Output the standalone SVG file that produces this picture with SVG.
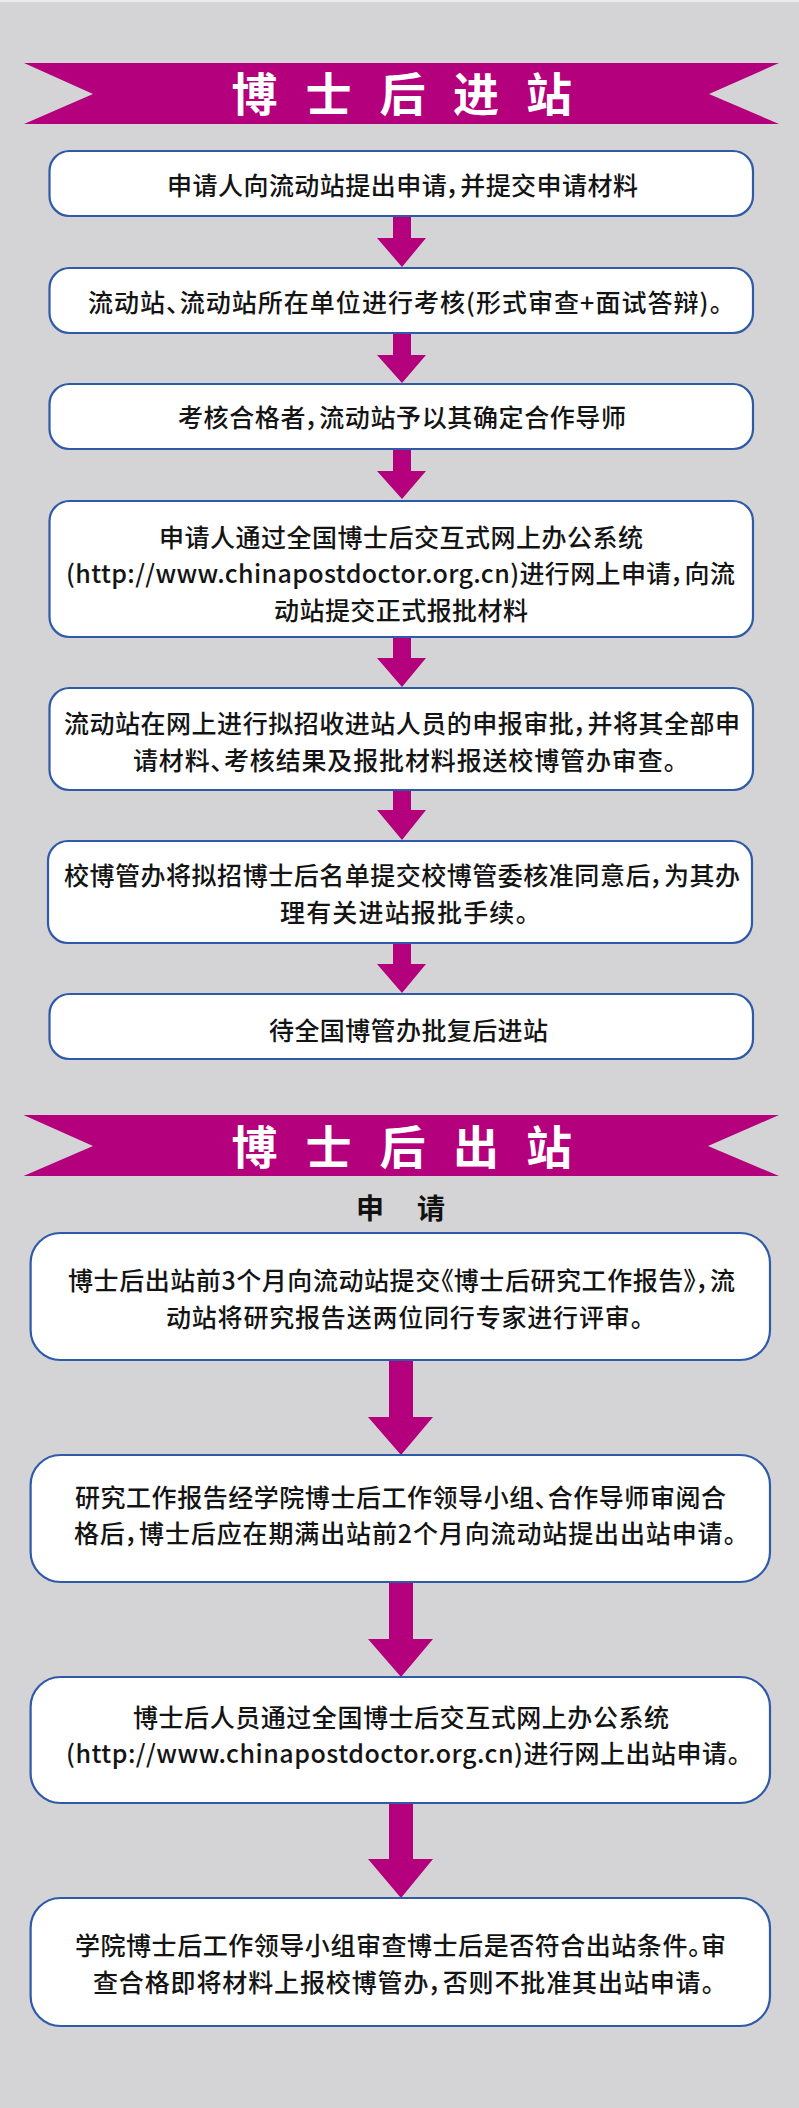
<svg xmlns="http://www.w3.org/2000/svg" width="799" height="2108" viewBox="0 0 799 2108">
<style>
.bg{fill:#d4d4d6}
.banner{fill:#b4007c}
.title{font-family:"Noto Sans CJK SC","Noto Sans",sans-serif;font-size:46px;font-weight:700;fill:#ffffff;text-anchor:middle}
.sub{font-family:"Noto Sans CJK SC","Noto Sans",sans-serif;font-size:28px;font-weight:700;fill:#111111;text-anchor:middle}
.box{fill:#ffffff;stroke:#2e5aa8;stroke-width:2.2}
.t{font-family:"Noto Sans CJK SC","Noto Sans",sans-serif;font-size:25px;font-weight:500;fill:#141414;font-feature-settings:"palt" 1}
.arrow{fill:#b4007c}
</style>
<rect class="bg" x="0" y="0" width="799" height="2108"/>
<rect x="0" y="0" width="799" height="2" fill="#ebebec"/>

<g id="banner-entry">
<polygon class="banner" points="24,63 779,63 709,94 779,124 24,124 93,94"/>
<text class="title" x="254.5 328.5 402.5 476 549" y="111">博士后进站</text>
</g>

<g id="connectors">
<polygon class="arrow" points="393,216 411,216 411,238 426,238 402,267 377,238 393,238"/>
<polygon class="arrow" points="393,333 411,333 411,355 426,355 402,383 377,355 393,355"/>
<polygon class="arrow" points="393,449 411,449 411,471 426,471 402,499 377,471 393,471"/>
<polygon class="arrow" points="393,637 411,637 411,658 426,658 402,687 377,658 393,658"/>
<polygon class="arrow" points="393,790 411,790 411,810 426,810 402,840 377,810 393,810"/>
<polygon class="arrow" points="393,943 411,943 411,964 426,964 402,993 377,964 393,964"/>
<polygon class="arrow" points="389,1360 413,1360 413,1417 433,1417 401,1455 368,1417 389,1417"/>
<polygon class="arrow" points="389,1582 413,1582 413,1639 433,1639 401,1677 368,1639 389,1639"/>
<polygon class="arrow" points="389,1803 413,1803 413,1859 433,1859 401,1898 368,1859 389,1859"/>
</g>

<g id="node1">
<rect class="box" x="49.5" y="151" width="703.5" height="65" rx="20" ry="20"/>
<text class="t" x="167" y="194.5" textLength="471" lengthAdjust="spacing">申请人向流动站提出申请，并提交申请材料</text>
</g>
<g id="node2">
<rect class="box" x="49.5" y="268" width="703.5" height="65" rx="20" ry="20"/>
<text class="t" x="88" y="311.5" textLength="634" lengthAdjust="spacing">流动站、流动站所在单位进行考核(形式审查+面试答辩)。</text>
</g>
<g id="node3">
<rect class="box" x="49.5" y="384" width="703.5" height="65" rx="20" ry="20"/>
<text class="t" x="178" y="426.5" textLength="448" lengthAdjust="spacing">考核合格者，流动站予以其确定合作导师</text>
</g>
<g id="node4">
<rect class="box" x="49.5" y="501" width="703.5" height="136" rx="20" ry="20"/>
<text class="t" x="159" y="546.5" textLength="484" lengthAdjust="spacing">申请人通过全国博士后交互式网上办公系统</text>
<text class="t" x="66" y="582.5" textLength="669" lengthAdjust="spacing">(http://www.chinapostdoctor.org.cn)进行网上申请，向流</text>
<text class="t" x="274" y="619.5" textLength="254" lengthAdjust="spacing">动站提交正式报批材料</text>
</g>
<g id="node5">
<rect class="box" x="49.5" y="688" width="703.5" height="102" rx="20" ry="20"/>
<text class="t" x="64" y="732.5" textLength="676" lengthAdjust="spacing">流动站在网上进行拟招收进站人员的申报审批，并将其全部申</text>
<text class="t" x="133" y="769.5" textLength="543" lengthAdjust="spacing">请材料、考核结果及报批材料报送校博管办审查。</text>
</g>
<g id="node6">
<rect class="box" x="48" y="841" width="704" height="102" rx="20" ry="20"/>
<text class="t" x="64" y="884.5" textLength="676" lengthAdjust="spacing">校博管办将拟招博士后名单提交校博管委核准同意后，为其办</text>
<text class="t" x="280" y="921.5" textLength="248" lengthAdjust="spacing">理有关进站报批手续。</text>
</g>
<g id="node7">
<rect class="box" x="49.5" y="994" width="703.5" height="65" rx="20" ry="20"/>
<text class="t" x="269" y="1039.5" textLength="279" lengthAdjust="spacing">待全国博管办批复后进站</text>
</g>

<g id="banner-exit">
<polygon class="banner" points="23.5,1115 779,1115 708,1146 779,1176 23.5,1176 93,1146"/>
<text class="title" x="254.5 328.5 402.5 476 549" y="1164">博士后出站</text>
</g>

<g id="subtitle">
<text class="sub" x="370 400 431" y="1219">申 请</text>
</g>

<g id="node8">
<rect class="box" x="30.6" y="1233" width="739.4" height="127" rx="30" ry="30"/>
<text class="t" x="68" y="1289.5" textLength="667" lengthAdjust="spacing">博士后出站前3个月向流动站提交《博士后研究工作报告》，流</text>
<text class="t" x="166" y="1326.5" textLength="477" lengthAdjust="spacing">动站将研究报告送两位同行专家进行评审。</text>
</g>
<g id="node9">
<rect class="box" x="30.6" y="1455" width="739.4" height="127" rx="30" ry="30"/>
<text class="t" x="75" y="1506.5" textLength="651" lengthAdjust="spacing">研究工作报告经学院博士后工作领导小组、合作导师审阅合</text>
<text class="t" x="74" y="1542.5" textLength="662" lengthAdjust="spacing">格后，博士后应在期满出站前2个月向流动站提出出站申请。</text>
</g>
<g id="node10">
<rect class="box" x="30.6" y="1677" width="739.4" height="126" rx="30" ry="30"/>
<text class="t" x="133" y="1726.5" textLength="536" lengthAdjust="spacing">博士后人员通过全国博士后交互式网上办公系统</text>
<text class="t" x="66" y="1762.5" textLength="674" lengthAdjust="spacing">(http://www.chinapostdoctor.org.cn)进行网上出站申请。</text>
</g>
<g id="node11">
<rect class="box" x="30.6" y="1898" width="739.4" height="128" rx="30" ry="30"/>
<text class="t" x="75" y="1954.5" textLength="651" lengthAdjust="spacing">学院博士后工作领导小组审查博士后是否符合出站条件。审</text>
<text class="t" x="93" y="1991.5" textLength="621" lengthAdjust="spacing">查合格即将材料上报校博管办，否则不批准其出站申请。</text>
</g>
</svg>
